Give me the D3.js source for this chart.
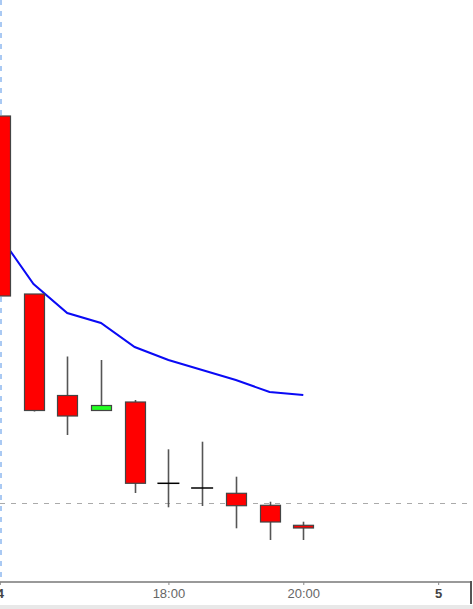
<!DOCTYPE html>
<html>
<head>
<meta charset="utf-8">
<script src="https://cdn.jsdelivr.net/npm/d3@7"></script>
<style>
body { margin: 0; background: #fff; overflow: hidden; }
</style>
</head>
<body>
<script>
// half-hour candles, 15:30 .. 20:00
var times  = ["15:30","16:00","16:30","17:00","17:30","18:00","18:30","19:00","19:30","20:00"];
var opens  = [138.7, 120.9, 110.75, 109.25, 110.1, 101.97, 101.5, 100.97, 99.77, 97.77];
var highs  = [138.7, 120.9, 114.65, 114.3, 110.3, 105.37, 106.13, 102.63, 100.13, 98.13];
var lows   = [120.7, 109.15, 106.8, 109.25, 101.0, 99.57, 99.7, 97.47, 96.3, 96.3];
var closes = [120.7, 109.25, 108.7, 109.75, 101.97, 101.97, 101.5, 99.73, 98.1, 97.5];
var ma     = [126.7, 121.9, 119.0, 118.0, 115.6, 114.3, 113.3, 112.3, 111.1, 110.8];
var refLevel = 100;

var tickIdx  = [0, 5, 9, 13];
var tickText = ["4", "18:00", "20:00", "5"];
var tickDay  = [true, false, false, true];

var width = 473, height = 609;
var axisY = 582;

var svg = d3.select("body").append("svg")
    .attr("width", width)
    .attr("height", height);

var x = d3.scaleLinear().domain([0, 14]).range([-0.2, 471.9]);
var y = d3.scaleLinear().domain([92.1, 150.3]).range([axisY, 0]);

var data = times.map(function (t, i) {
    return {t: t, i: i, o: opens[i], h: highs[i], l: lows[i], c: closes[i]};
});

// bottom grey band
svg.append("rect").attr("x", 0).attr("y", 605).attr("width", width).attr("height", 4).attr("fill", "#e8e8e8");

// light blue vertical marker on the left
svg.append("line")
    .attr("x1", 1).attr("x2", 1).attr("y1", 0).attr("y2", axisY)
    .attr("stroke", "#a9c9f3").attr("stroke-width", 2)
    .attr("stroke-dasharray", "5,6");

// reference level (dashed)
svg.append("line")
    .attr("x1", 0).attr("x2", width)
    .attr("y1", Math.round(y(refLevel)) + 0.5).attr("y2", Math.round(y(refLevel)) + 0.5)
    .attr("stroke", "#aaa").attr("stroke-width", 1)
    .attr("stroke-dasharray", "5,6");

// moving average line, under the candles
var maLine = d3.line()
    .x(function (d, i) { return x(i); })
    .y(function (d) { return y(d); });
svg.append("path").attr("d", maLine(ma))
    .attr("fill", "none").attr("stroke", "#0a0af5").attr("stroke-width", 2);

var bodyW = 20;

// wicks
svg.selectAll("line.wick").data(data).enter().append("line")
    .attr("class", "wick")
    .attr("x1", function (d) { return Math.round(x(d.i)) + 0.5; })
    .attr("x2", function (d) { return Math.round(x(d.i)) + 0.5; })
    .attr("y1", function (d) { return y(d.h); })
    .attr("y2", function (d) { return y(d.l); })
    .attr("stroke", "#555").attr("stroke-width", 1.6);

// bodies (doji drawn as a black dash)
svg.selectAll("rect.body").data(data.filter(function (d) { return d.o != d.c; })).enter().append("rect")
    .attr("class", "body")
    .attr("x", function (d) { return Math.round(x(d.i)) - bodyW / 2 + 0.5; })
    .attr("y", function (d) { return y(Math.max(d.o, d.c)); })
    .attr("width", bodyW)
    .attr("height", function (d) { return Math.max(2, Math.abs(y(d.o) - y(d.c))); })
    .attr("fill", function (d) { return d.c > d.o ? "#22ff22" : "#ff0000"; })
    .attr("stroke", "#444").attr("stroke-width", 1.2);

svg.selectAll("line.doji").data(data.filter(function (d) { return d.o == d.c; })).enter().append("line")
    .attr("class", "doji")
    .attr("x1", function (d) { return x(d.i) - 11; })
    .attr("x2", function (d) { return x(d.i) + 11; })
    .attr("y1", function (d) { return y(d.o); })
    .attr("y2", function (d) { return y(d.o); })
    .attr("stroke", "#000").attr("stroke-width", 1.5);

// x axis
var xAxis = d3.axisBottom(x)
    .tickValues(tickIdx)
    .tickSize(3)
    .tickFormat(function (d, i) { return tickText[i]; });

var gx = svg.append("g").attr("transform", "translate(0," + axisY + ")").call(xAxis);
gx.select(".domain").attr("stroke", "#777").attr("stroke-width", 1.5).attr("d", "M0,0H471");
gx.selectAll(".tick line").attr("stroke", "#888");
gx.selectAll(".tick text")
    .attr("y", 7)
    .attr("font-family", "Liberation Sans, Arial, sans-serif")
    .attr("font-size", 13)
    .attr("font-weight", function (d, i) { return tickDay[i] ? "bold" : "normal"; })
    .attr("fill", function (d, i) { return tickDay[i] ? "#444" : "#666"; });

// right border of the axis area
svg.append("line")
    .attr("x1", 471).attr("x2", 471).attr("y1", axisY - 1).attr("y2", 604)
    .attr("stroke", "#555").attr("stroke-width", 2);
</script>
</body>
</html>
